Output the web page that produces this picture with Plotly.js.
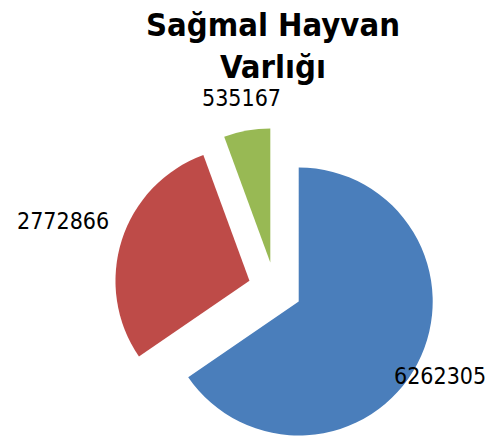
<!DOCTYPE html>
<html>
<head>
<meta charset="utf-8">
<script src="https://cdn.plot.ly/plotly-3.0.1.min.js"></script>
<style>
html,body{margin:0;padding:0;overflow:hidden;background:#fff;width:493px;height:439px;}
#chart{width:493px;height:455px;}
</style>
</head>
<body>
<div id="chart"></div>
<script>
const categories = ['A', 'B', 'C'];
const values = [6262305, 2772866, 535167];
const colors = ['#4A7EBB', '#BE4B48', '#98B954'];
const titleText = 'Sağmal Hayvan<br>Varlığı';

const W = 493, H = 455;
// pie geometry (page pixels)
const CX = 275, CY = 289, R = 134, PULL = 0.2;
const labelDist = [160, 196, 167]; // label centre distance from slice tip

const trace = {
  type: 'pie',
  labels: categories,
  values: values,
  textinfo: 'none',
  sort: false,
  direction: 'clockwise',
  rotation: 0,
  pull: values.map(() => PULL),
  marker: {colors: colors, line: {width: 0}},
  showlegend: false,
  hoverinfo: 'none',
  automargin: false,
  domain: {x: [(CX - R * (1 + PULL)) / W, (CX + R * (1 + PULL)) / W],
           y: [(H - CY - R * (1 + PULL)) / H, (H - CY + R * (1 + PULL)) / H]}
};

// label positions follow each slice's mid angle
const total = values.reduce((a, b) => a + b, 0);
let cum = 0;
const annotations = values.map((v, i) => {
  const mid = (cum + v / 2) / total * 2 * Math.PI;
  cum += v;
  const dx = Math.sin(mid), dy = -Math.cos(mid);
  const d = R * PULL + labelDist[i];
  const px = CX + dx * d, py = CY + dy * d;
  return {
    text: String(v), xref: 'paper', yref: 'paper',
    x: px / W, y: 1 - py / H, xanchor: 'center', yanchor: 'middle',
    showarrow: false,
    font: {family: 'DejaVu Sans Condensed, DejaVu Sans', size: 23, color: '#000'}
  };
});

const layout = {
  width: W, height: H,
  margin: {l: 0, r: 0, t: 0, b: 0},
  paper_bgcolor: '#fff',
  plot_bgcolor: '#fff',
  showlegend: false,
  annotations: annotations,
  title: {
    text: titleText,
    font: {family: 'DejaVu Sans Condensed, DejaVu Sans', size: 32.5, color: '#000', weight: 'bold'},
    x: 273 / W, xanchor: 'center',
    y: 1 - 36 / H, yanchor: 'top', yref: 'container'
  }
};

Plotly.newPlot('chart', [trace], layout, {staticPlot: true, displayModeBar: false});
</script>
</body>
</html>
